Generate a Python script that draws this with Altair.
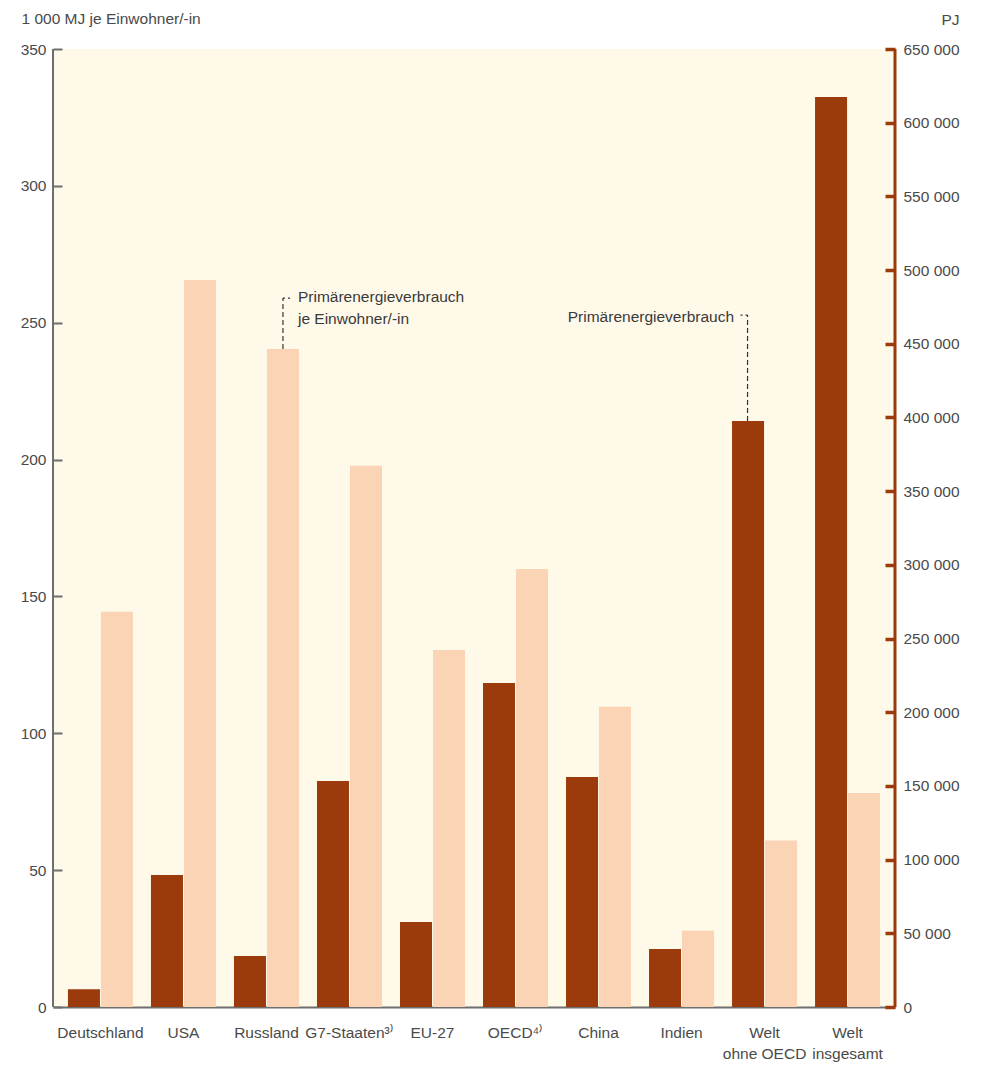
import altair as alt
import pandas as pd

# ---- data ----
regionen = ["Deutschland", "USA", "Russland", "G7-Staaten³⁾", "EU-27", "OECD⁴⁾",
            "China", "Indien", "Welt\nohne OECD", "Welt\ninsgesamt"]
pev_pj = [12000, 89500, 34600, 153300, 57700, 219900, 156100, 39400, 397600, 617400]
pev_je_ew = [144.4, 265.6, 240.4, 197.7, 130.4, 160.0, 109.7, 27.9, 60.8, 78.2]
left_ticks = [0, 50, 100, 150, 200, 250, 300, 350]
right_ticks = [0, 50000, 100000, 150000, 200000, 250000, 300000, 350000,
               400000, 450000, 500000, 550000, 600000, 650000]
reihen = ["Primärenergieverbrauch", "Primärenergieverbrauch je Einwohner/-in"]

# annotations (anchored to data)
ann1_region = ["Russland"]
ann1_von = [240.4]
ann1_bis = [259.0]
ann1_text_y = [257.6]
ann1_text = ["Primärenergieverbrauch\nje Einwohner/-in"]
ann2_region = ["Welt\nohne OECD"]
ann2_von = [397600]
ann2_bis = [469500]
ann2_text_y = [464800]
ann2_text = ["Primärenergieverbrauch"]

DARK = "#9b3a0a"
LIGHT = "#fad4b4"
BG = "#fff9e9"
GRAY = "#6e6e6e"
TXT = "#4a4a4a"
FONT = "Liberation Sans, Arial, Helvetica, sans-serif"
FS = 15.5

df_light = pd.DataFrame({"Region": regionen, "Reihe": reihen[1], "Wert": pev_je_ew})
df_dark = pd.DataFrame({"Region": regionen, "Reihe": reihen[0], "Wert": pev_pj})
df_a1 = pd.DataFrame({"Region": ann1_region, "Wert": ann1_von, "Wert2": ann1_bis,
                      "Ty": ann1_text_y, "Text": ann1_text})
df_a2 = pd.DataFrame({"Region": ann2_region, "Wert": ann2_von, "Wert2": ann2_bis,
                      "Ty": ann2_text_y, "Text": ann2_text})
one = pd.DataFrame({"d": [0]})

x_axis = alt.Axis(orient="bottom", domain=True, domainColor=GRAY, domainWidth=2,
                  ticks=False, labelAngle=0, labelPadding=18, labelFont=FONT,
                  labelFontSize=FS, labelColor=TXT, labelLineHeight=21,
                  labelExpr="split(datum.label, '\\n')", labelLimit=300, title=None)
x_scale = alt.Scale(paddingInner=0.217, paddingOuter=0.18)


def xenc():
    return alt.X("Region:N", sort=regionen, scale=x_scale, axis=x_axis)


xoff = alt.XOffset("Reihe:N", sort=reihen,
                   scale=alt.Scale(domain=reihen, paddingInner=0.03))

left_axis = alt.Axis(orient="left", values=left_ticks, offset=-9, domain=False,
                     tickSize=9, tickWidth=2, tickColor=GRAY, labelPadding=7,
                     labelFont=FONT, labelFontSize=FS, labelColor=TXT, grid=False,
                     title="1 000 MJ je Einwohner/-in", titleAngle=0, titleAlign="left",
                     titleBaseline="alphabetic", titleX=-41, titleY=-26, titleFont=FONT,
                     titleFontSize=FS, titleFontWeight="normal", titleColor=TXT, zindex=1)
right_axis = alt.Axis(orient="right", values=right_ticks, offset=-10, domain=False,
                      tickSize=10, tickWidth=3.5, tickColor=DARK, labelPadding=8,
                      labelFont=FONT, labelFontSize=FS, labelColor=TXT, grid=False,
                      labelExpr="datum.value == 0 ? '0' : format(datum.value / 1000, 'd') + ' 000'",
                      title="PJ", titleAngle=0, titleAlign="right",
                      titleBaseline="alphabetic", titleX=74, titleY=-25, titleFont=FONT,
                      titleFontSize=FS, titleFontWeight="normal", titleColor=TXT, zindex=1)

y_left = alt.Y("Wert:Q", scale=alt.Scale(domain=[0, 350], nice=False), axis=left_axis)
y_right = alt.Y("Wert:Q", scale=alt.Scale(domain=[0, 650000], nice=False), axis=right_axis)

light = alt.Chart(df_light).mark_bar(color=LIGHT).encode(x=xenc(), xOffset=xoff, y=y_left)
a1_v = alt.Chart(df_a1).mark_rule(color="#333", strokeWidth=1.2, strokeDash=[5, 3],
                                  xOffset=16.5).encode(x=xenc(), y="Wert:Q", y2="Wert2:Q")
a1_h = alt.Chart(df_a1).mark_rule(color="#333", strokeWidth=1.2, strokeDash=[2, 3],
                                  xOffset=16.5, x2Offset=26).encode(
    x=xenc(), x2="Region:N", y="Wert2:Q")
a1_t = alt.Chart(df_a1).mark_text(align="left", baseline="alphabetic", dx=31.5,
                                  font=FONT, fontSize=FS, color="#3a3a3a",
                                  lineBreak="\n", lineHeight=22).encode(
    x=xenc(), y="Ty:Q", text="Text:N")
left_rule = alt.Chart(one).mark_rule(color=GRAY, strokeWidth=2).encode(
    x=alt.value(0), y=alt.value(0), y2=alt.value("height"))

dark = alt.Chart(df_dark).mark_bar(color=DARK).encode(x=xenc(), xOffset=xoff, y=y_right)
a2_v = alt.Chart(df_a2).mark_rule(color="#333", strokeWidth=1.2, strokeDash=[5, 3],
                                  xOffset=-17).encode(x=xenc(), y="Wert:Q", y2="Wert2:Q")
a2_h = alt.Chart(df_a2).mark_rule(color="#333", strokeWidth=1.2, strokeDash=[2, 3],
                                  xOffset=-17, x2Offset=-27).encode(
    x=xenc(), x2="Region:N", y="Wert2:Q")
a2_t = alt.Chart(df_a2).mark_text(align="right", baseline="alphabetic", dx=-30.5,
                                  font=FONT, fontSize=FS, color="#3a3a3a").encode(
    x=xenc(), y="Ty:Q", text="Text:N")
right_rule = alt.Chart(one).mark_rule(color=DARK, strokeWidth=3).encode(
    x=alt.value("width"), y=alt.value(0), y2=alt.value("height"))

left_layer = alt.layer(light, a1_v, a1_h, a1_t, left_rule)
right_layer = alt.layer(dark, a2_v, a2_h, a2_t, right_rule)

chart = alt.layer(left_layer, right_layer).resolve_scale(y="independent").properties(
    width=842, height=958,
    autosize=alt.AutoSizeParams(type="none"),
    padding={"left": 45, "top": 41, "right": 80, "bottom": 62},
).configure_view(stroke=None, fill=BG)

chart.save("out.html", embed_options={"renderer": "svg", "actions": False})
